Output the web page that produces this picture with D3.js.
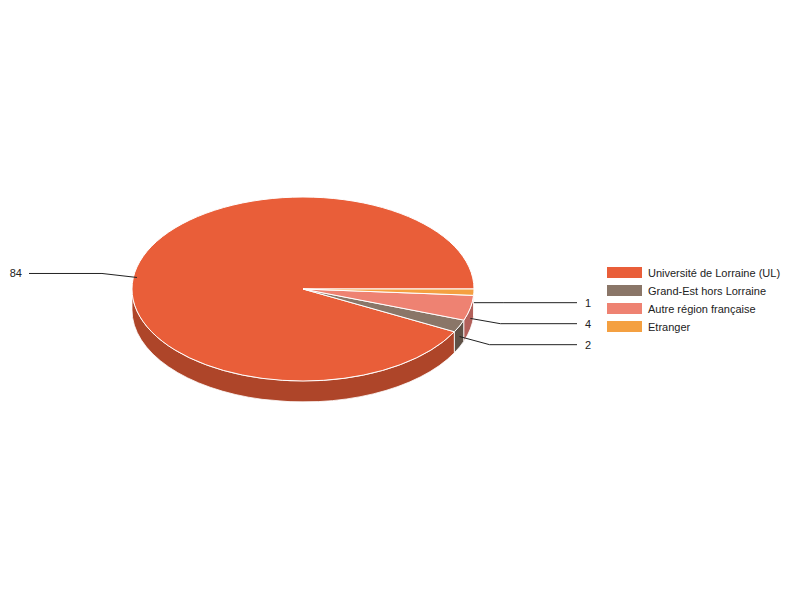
<!DOCTYPE html>
<html><head><meta charset="utf-8">
<script src="https://cdn.jsdelivr.net/npm/d3@7"></script>
<style>body{margin:0;background:#fff}svg{display:block}text{font-family:"Liberation Sans",Arial,sans-serif;font-size:11px;fill:#222}</style>
</head><body><svg id="c" width="800" height="600"></svg>
<script>
const categories = ["Université de Lorraine (UL)", "Grand-Est hors Lorraine", "Autre région française", "Etranger"];
const values = [84, 2, 4, 1];
const topColors = ["#e95e39", "#8a7668", "#ee8272", "#f4a041"];
const sideColors = ["#ae4529", "#5f5146", "#b3605a", "#b87830"];

const svg = d3.select("#c");
const cx = 303, cy = 289, rx = 171, ry = 92, depth = 21;

const data = categories.map((c, i) => ({ cat: c, value: values[i], i }));
// start at 3 o'clock, go counter-clockwise
const pie = d3.pie().sort(null).value(d => d.value)
  .startAngle(Math.PI / 2 + 2 * Math.PI).endAngle(Math.PI / 2);
const arcs = pie(data);
arcs.forEach(a => {
  const t1 = a.startAngle - Math.PI / 2, t2 = a.endAngle - Math.PI / 2;
  a.t0 = Math.min(t1, t2); a.t1 = Math.max(t1, t2);
  while (a.t0 >= 2 * Math.PI) { a.t0 -= 2 * Math.PI; a.t1 -= 2 * Math.PI; }
});
const px = t => cx + rx * Math.cos(t);
const py = (t, dz = 0) => cy + ry * Math.sin(t) + dz;

function sidePath(t0, t1) {
  const large = (t1 - t0) > Math.PI ? 1 : 0;
  return `M${px(t0)},${py(t0)} A${rx},${ry} 0 ${large} 1 ${px(t1)},${py(t1)} L${px(t1)},${py(t1, depth)} A${rx},${ry} 0 ${large} 0 ${px(t0)},${py(t0, depth)} Z`;
}
function topPath(t0, t1) {
  const large = (t1 - t0) > Math.PI ? 1 : 0;
  return `M${cx},${cy} L${px(t0)},${py(t0)} A${rx},${ry} 0 ${large} 1 ${px(t1)},${py(t1)} Z`;
}

const gSide = svg.append("g");
arcs.forEach(a => {
  [[0, Math.PI], [2 * Math.PI, 3 * Math.PI]].forEach(([lo, hi]) => {
    const s = Math.max(a.t0, lo), e = Math.min(a.t1, hi);
    if (e > s) gSide.append("path").attr("d", sidePath(s, e))
      .attr("fill", sideColors[a.data.i]).attr("stroke", "#fff").attr("stroke-width", 0.8);
  });
});
svg.append("g").selectAll("path").data(arcs).join("path")
  .attr("d", a => topPath(a.t0, a.t1))
  .attr("fill", a => topColors[a.data.i])
  .attr("stroke", "#fff").attr("stroke-width", 1);

const labels = arcs.map(a => {
  const m = (a.t0 + a.t1) / 2;
  const ax = px(m), ay = py(m, depth / 2);
  return { a, ax, ay, right: Math.cos(m) >= 0, y: ay };
});
const rightL = labels.filter(l => l.right).sort((p, q) => p.ay - q.ay);
for (let k = 1; k < rightL.length; k++) rightL[k].y = Math.max(rightL[k].y, rightL[k - 1].y + 21);
labels.filter(l => !l.right).forEach(l => l.y = l.ay - 4);
const gl = svg.append("g");
labels.forEach(l => {
  const ex = l.right ? l.ax + 30 : l.ax - 35;
  const endX = l.right ? 577 : 29;
  gl.append("path").attr("d", `M${l.ax},${l.ay} L${ex},${l.y} L${endX},${l.y}`)
    .attr("fill", "none").attr("stroke", "#222").attr("stroke-width", 1);
  gl.append("text").attr("x", l.right ? 585 : 22).attr("y", l.y).attr("dy", "0.35em")
    .attr("text-anchor", l.right ? "start" : "end").text(l.a.data.value);
});

const lg = svg.append("g").attr("transform", "translate(607,267)");
const row = lg.selectAll("g").data(data).join("g").attr("transform", (d, i) => `translate(0,${i * 18})`);
row.append("rect").attr("width", 35).attr("height", 11).attr("fill", d => topColors[d.i]);
row.append("text").attr("x", 41).attr("y", 6).attr("dy", "0.35em").text(d => d.cat);
</script></body></html>
